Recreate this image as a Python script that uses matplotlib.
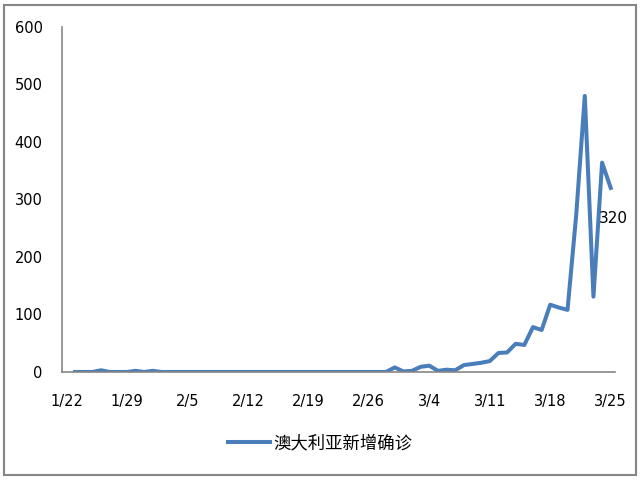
import numpy as np
import pandas as pd
import matplotlib
matplotlib.use("Agg")
import matplotlib.pyplot as plt
from matplotlib.patches import Rectangle

plt.rcParams['font.family'] = ['DejaVu Sans', 'Noto Sans CJK SC']

# daily new confirmed cases, Australia, 1/22 - 3/25 (first day has no value)
dates = pd.date_range('2020-01-22', '2020-03-25')
values = [np.nan, 0, 0, 0, 3, 0, 0, 0, 2, 0,
          2, 0, 0, 0, 0, 0, 0, 0, 0, 0,
          0, 0, 0, 0, 0, 0, 0, 0, 0, 0,
          0, 0, 0, 0, 0, 0, 0, 0, 8, 1,
          2, 9, 11, 2, 4, 3, 12, 14, 16, 19,
          33, 34, 49, 47, 78, 73, 117, 112, 108, 272,
          480, 131, 364, 320]
series_name = '澳大利亚新增确诊'
y_ticks = [0, 100, 200, 300, 400, 500, 600]

labels = [f'{d.month}/{d.day}' for d in dates]
x = np.arange(len(dates))

fig = plt.figure(figsize=(6.4, 4.8), dpi=100)
ax = fig.add_axes([0.097, 0.225, 0.864, 0.719])

line, = ax.plot(x, values, color='#4a7ebb', lw=2.9, solid_joinstyle='round', label=series_name)

# label on last point
ax.annotate(f'{values[-1]}', (x[-1], values[-1]), xytext=(2, -22), textcoords='offset points',
            ha='center', va='center', fontsize=11, color='black')

ax.set_xlim(-0.5, len(dates) - 0.5)
ax.set_ylim(0, 600)
ax.set_yticks(y_ticks)
ax.set_xticks(x[::7])
ax.set_xticklabels(labels[::7])
ax.tick_params(axis='both', length=0, labelsize=10.5)
ax.tick_params(axis='x', pad=16)
ax.tick_params(axis='y', pad=14)

for s in ['top', 'right']:
    ax.spines[s].set_visible(False)
for s in ['left', 'bottom']:
    ax.spines[s].set_color('#868686')
    ax.spines[s].set_linewidth(1.2)

fig.legend(handles=[line], loc='center', bbox_to_anchor=(0.5, 0.077), frameon=False,
           prop={'family': ['Noto Sans CJK SC'], 'size': 12.5}, handlelength=2.4, handletextpad=0.2)

fig.patches.append(Rectangle((0.007, 0.01), 0.987, 0.98, transform=fig.transFigure,
                             fill=False, edgecolor='#868686', lw=1.5))

fig.savefig('out.png', dpi=100)
